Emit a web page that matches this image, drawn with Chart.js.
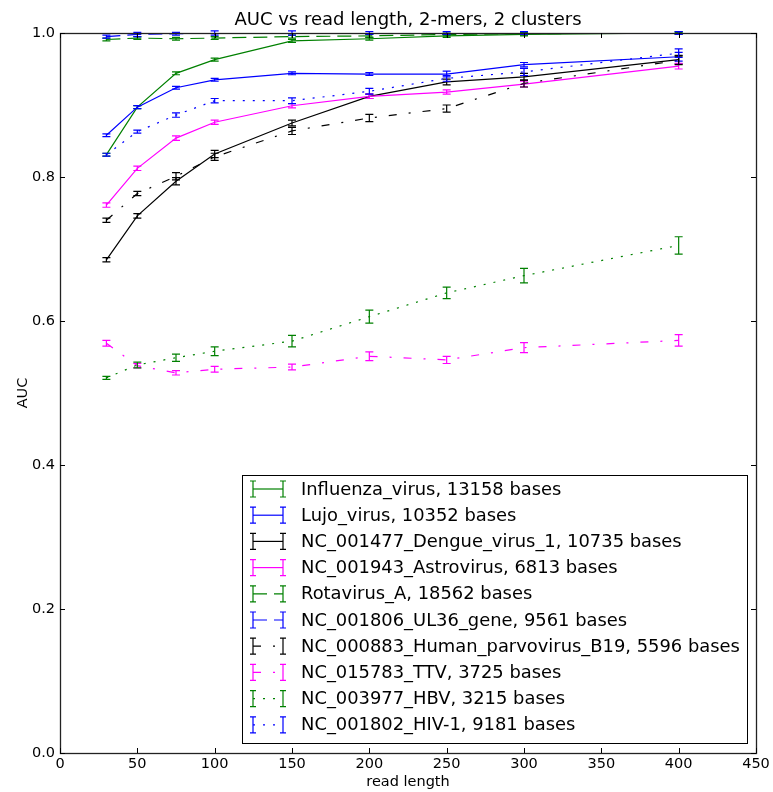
<!DOCTYPE html>
<html><head><meta charset="utf-8">
<script src="https://cdn.jsdelivr.net/npm/chart.js@4/dist/chart.umd.min.js"></script>
<style>html,body{margin:0;padding:0;background:#fff}canvas{display:block}</style>
</head><body>
<canvas id="c" width="773" height="792"></canvas>
<script>
const readLength = [30, 50, 75, 100, 150, 200, 250, 300, 400];
const xTicks = [0, 50, 100, 150, 200, 250, 300, 350, 400, 450];
const yTicks = [0.0, 0.2, 0.4, 0.6, 0.8, 1.0];

const seriesNames = [
  "Influenza_virus, 13158 bases",
  "Lujo_virus, 10352 bases",
  "NC_001477_Dengue_virus_1, 10735 bases",
  "NC_001943_Astrovirus, 6813 bases",
  "Rotavirus_A, 18562 bases",
  "NC_001806_UL36_gene, 9561 bases",
  "NC_000883_Human_parvovirus_B19, 5596 bases",
  "NC_015783_TTV, 3725 bases",
  "NC_003977_HBV, 3215 bases",
  "NC_001802_HIV-1, 9181 bases"
];

const influenzaAUC = [0.831, 0.897, 0.944, 0.963, 0.989, 0.992, 0.996, 0.998, 1.000];
const influenzaErr = [0.002, 0.002, 0.002, 0.002, 0.002, 0.002, 0.002, 0.002, 0.001];
const lujoAUC      = [0.858, 0.897, 0.924, 0.935, 0.944, 0.943, 0.943, 0.956, 0.967];
const lujoErr      = [0.002, 0.002, 0.002, 0.002, 0.002, 0.002, 0.004, 0.003, 0.006];
const dengueAUC    = [0.685, 0.746, 0.794, 0.832, 0.875, 0.912, 0.932, 0.939, 0.963];
const dengueErr    = [0.003, 0.003, 0.005, 0.005, 0.004, 0.003, 0.004, 0.005, 0.006];
const astroAUC     = [0.761, 0.812, 0.854, 0.876, 0.899, 0.912, 0.918, 0.929, 0.954];
const astroErr     = [0.003, 0.003, 0.003, 0.003, 0.003, 0.003, 0.003, 0.004, 0.004];
const rotaAUC      = [0.991, 0.993, 0.992, 0.993, 0.995, 0.996, 0.998, 0.999, 1.000];
const rotaErr      = [0.002, 0.002, 0.002, 0.002, 0.002, 0.002, 0.002, 0.002, 0.002];
const ul36AUC      = [0.995, 0.998, 0.999, 1.000, 1.000, 1.000, 1.000, 1.000, 1.000];
const ul36Err      = [0.002, 0.003, 0.002, 0.003, 0.003, 0.002, 0.002, 0.002, 0.002];
const parvoAUC     = [0.740, 0.777, 0.801, 0.828, 0.864, 0.882, 0.895, 0.930, 0.962];
const parvoErr     = [0.003, 0.003, 0.005, 0.005, 0.005, 0.005, 0.005, 0.005, 0.006];
const ttvAUC       = [0.569, 0.538, 0.528, 0.533, 0.536, 0.551, 0.546, 0.563, 0.573];
const ttvErr       = [0.004, 0.003, 0.003, 0.004, 0.004, 0.006, 0.005, 0.007, 0.008];
const hbvAUC       = [0.521, 0.539, 0.549, 0.558, 0.572, 0.606, 0.639, 0.663, 0.705];
const hbvErr       = [0.002, 0.004, 0.005, 0.006, 0.008, 0.009, 0.008, 0.010, 0.012];
const hivAUC       = [0.831, 0.863, 0.886, 0.906, 0.906, 0.919, 0.937, 0.946, 0.972];
const hivErr       = [0.002, 0.002, 0.003, 0.003, 0.004, 0.004, 0.004, 0.005, 0.006];

const GREEN = '#008000', BLUE = '#0000ff', BLACK = '#000000', MAGENTA = '#ff00ff';
const SOLID = [], DASHED = [14, 7], DASHDOT = [8, 12, 2, 12], DOTTED = [2, 8];

const seriesAUC = [influenzaAUC, lujoAUC, dengueAUC, astroAUC, rotaAUC, ul36AUC, parvoAUC, ttvAUC, hbvAUC, hivAUC];
const seriesErr = [influenzaErr, lujoErr, dengueErr, astroErr, rotaErr, ul36Err, parvoErr, ttvErr, hbvErr, hivErr];
const seriesColor = [GREEN, BLUE, BLACK, MAGENTA, GREEN, BLUE, BLACK, MAGENTA, GREEN, BLUE];
const seriesDash = [SOLID, SOLID, SOLID, SOLID, DASHED, DASHED, DASHDOT, DASHDOT, DOTTED, DOTTED];

const datasets = seriesNames.map((name, i) => ({
  label: name,
  data: readLength.map((x, j) => ({x: x, y: seriesAUC[i][j]})),
  errors: seriesErr[i],
  borderColor: seriesColor[i],
  backgroundColor: seriesColor[i],
  borderDash: seriesDash[i],
  borderWidth: 1.2,
  pointRadius: 0,
  pointHoverRadius: 0,
  fill: false,
  tension: 0,
  order: 20 - i
}));

const errorBarPlugin = {
  id: 'errorBars',
  afterDatasetsDraw(chart) {
    const ctx = chart.ctx, xs = chart.scales.x, ys = chart.scales.y;
    const metas = chart.getSortedVisibleDatasetMetas().slice().reverse();
    ctx.save();
    metas.forEach(meta => {
      const ds = chart.data.datasets[meta.index];
      ctx.strokeStyle = ds.borderColor;
      ctx.lineWidth = 1.2;
      ctx.setLineDash([]);
      ds.data.forEach((p, j) => {
        const e = ds.errors[j];
        const px = xs.getPixelForValue(p.x);
        const y1 = ys.getPixelForValue(p.y - e), y2 = ys.getPixelForValue(p.y + e);
        ctx.beginPath();
        ctx.moveTo(px, y1); ctx.lineTo(px, y2);
        ctx.moveTo(px - 4, y1); ctx.lineTo(px + 4, y1);
        ctx.moveTo(px - 4, y2); ctx.lineTo(px + 4, y2);
        ctx.stroke();
      });
    });
    ctx.restore();
  }
};

const framePlugin = {
  id: 'frame',
  afterDraw(chart) {
    const ctx = chart.ctx, a = chart.chartArea, xs = chart.scales.x, ys = chart.scales.y;
    ctx.save();
    ctx.strokeStyle = '#222';
    ctx.lineWidth = 1.3;
    ctx.setLineDash([]);
    ctx.strokeRect(Math.round(a.left) + 0.5, Math.round(a.top) + 0.5, Math.round(a.right - a.left), Math.round(a.bottom - a.top));
    ctx.lineWidth = 1;
    ctx.strokeStyle = '#000';
    ctx.beginPath();
    xTicks.forEach(v => {
      const px = Math.round(xs.getPixelForValue(v)) + 0.5;
      ctx.moveTo(px, a.bottom); ctx.lineTo(px, a.bottom - 5);
      ctx.moveTo(px, a.top); ctx.lineTo(px, a.top + 5);
    });
    yTicks.forEach(v => {
      const py = Math.round(ys.getPixelForValue(v)) + 0.5;
      ctx.moveTo(a.left, py); ctx.lineTo(a.left + 5, py);
      ctx.moveTo(a.right, py); ctx.lineTo(a.right - 5, py);
    });
    ctx.stroke();
    ctx.restore();
  }
};

const legendPlugin = {
  id: 'boxLegend',
  afterDraw(chart) {
    const ctx = chart.ctx;
    const bx = 242, by = 475, bw = 505, bh = 268;
    ctx.save();
    ctx.fillStyle = '#fff';
    ctx.fillRect(bx, by, bw, bh);
    ctx.strokeStyle = '#000';
    ctx.lineWidth = 1;
    ctx.setLineDash([]);
    ctx.strokeRect(bx + 0.5, by + 0.5, bw, bh);
    ctx.font = '17.9px "DejaVu Sans"';
    ctx.textBaseline = 'middle';
    ctx.textAlign = 'left';
    chart.data.datasets.forEach((ds, i) => {
      const cy = 489 + i * 26.2;
      const x1 = 253, x2 = 283;
      ctx.strokeStyle = ds.borderColor;
      ctx.lineWidth = 1.2;
      ctx.setLineDash(ds.borderDash);
      ctx.beginPath();
      ctx.moveTo(x1, cy); ctx.lineTo(x2, cy);
      ctx.stroke();
      ctx.setLineDash([]);
      ctx.beginPath();
      [x1, x2].forEach(x => {
        ctx.moveTo(x, cy - 8); ctx.lineTo(x, cy + 8);
        ctx.moveTo(x - 3, cy - 8); ctx.lineTo(x + 3, cy - 8);
        ctx.moveTo(x - 3, cy + 8); ctx.lineTo(x + 3, cy + 8);
      });
      ctx.stroke();
      ctx.fillStyle = '#000';
      ctx.fillText(ds.label, 301, cy + 1);
    });
    ctx.restore();
  }
};

Chart.defaults.font.family = '"DejaVu Sans"';
Chart.defaults.color = '#000';

new Chart(document.getElementById('c'), {
  type: 'line',
  data: { datasets: datasets },
  options: {
    responsive: false,
    animation: false,
    layout: { padding: { left: 0, right: 17, top: 0, bottom: 0 } },
    plugins: {
      legend: { display: false },
      tooltip: { enabled: false },
      title: {
        display: true,
        fullSize: false,
        text: 'AUC vs read length, 2-mers, 2 clusters',
        font: { size: 18, weight: 'normal' },
        color: '#000',
        padding: { top: 9.2, bottom: 2.2 }
      }
    },
    scales: {
      x: {
        type: 'linear',
        min: 0, max: 450,
        afterBuildTicks: s => { s.ticks = xTicks.map(v => ({value: v})); },
        afterFit: s => { s.height = 39; },
        ticks: { font: { size: 14.5 }, padding: 3, color: '#000', maxRotation: 0, autoSkip: false },
        grid: { display: false, drawTicks: false },
        border: { display: false },
        title: { display: true, text: 'read length', font: { size: 14.5 }, color: '#000', padding: { top: 1, bottom: 1 } }
      },
      y: {
        type: 'linear',
        min: 0, max: 1,
        afterBuildTicks: s => { s.ticks = yTicks.map(v => ({value: v})); },
        afterFit: s => { s.width = 60; },
        ticks: { font: { size: 14.5 }, padding: 5, color: '#000', callback: v => v.toFixed(1) },
        grid: { display: false, drawTicks: false },
        border: { display: false },
        title: { display: true, text: 'AUC', font: { size: 14.5 }, color: '#000', padding: { top: 15, bottom: 0 } }
      }
    }
  },
  plugins: [errorBarPlugin, framePlugin, legendPlugin]
});
</script>
</body></html>
